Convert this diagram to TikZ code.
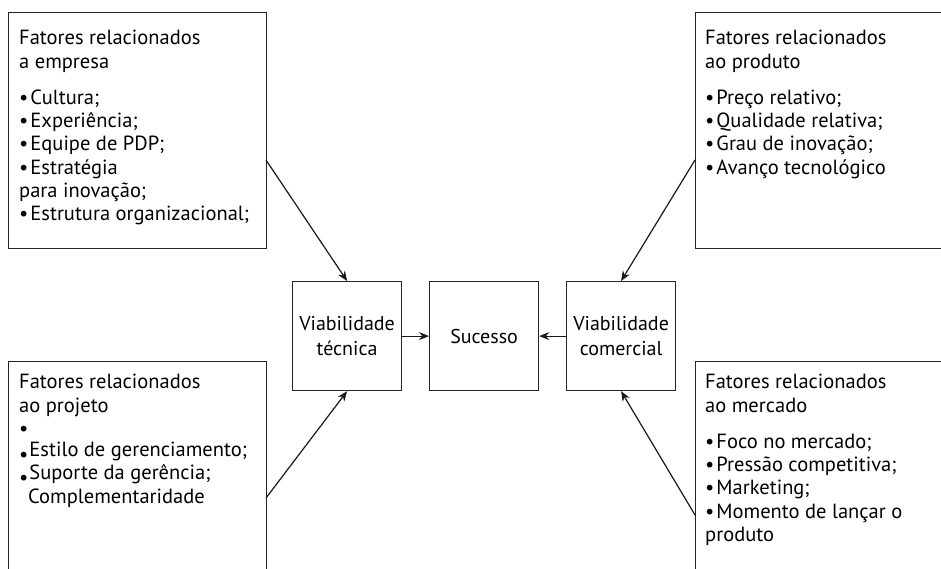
\documentclass[tikz,border=0pt]{standalone}
\usepackage{fontspec}
\setmainfont{PT Sans}
\usetikzlibrary{arrows.meta}
\newcommand{\bl}{\textbullet\hspace{2pt}}
\begin{document}
\begin{tikzpicture}[x=1pt,y=-1pt,
  frame/.style={draw=black!85, line width=1.2pt, rectangle, inner sep=0pt, anchor=north west},
  bigbox/.style={frame, minimum width=258pt, minimum height=236pt},
  midbox/.style={frame, minimum width=109pt, minimum height=109pt},
  txt/.style={anchor=north west, inner sep=0pt, align=left, font=\fontsize{20.5}{23.3}\selectfont},
  midtxt/.style={inner sep=0pt, align=center, font=\fontsize{20}{25}\selectfont},
  conn/.style={draw=black!90, line width=1.2pt, -{Stealth[length=10pt,width=8pt]}}]
\useasboundingbox (0,0) rectangle (941,568);
\clip (0,0) rectangle (941,568);
% big boxes
\node[bigbox] (tl) at (8,12) {};
\node[bigbox, minimum height=260pt] (bl) at (8,361) {};
\node[bigbox, minimum width=270pt] (tr) at (695,12) {};
\node[bigbox, minimum width=270pt, minimum height=260pt] (br) at (695,361) {};
% middle boxes
\node[midbox] (vt) at (292,281) {};
\node[midbox] (su) at (429,281) {};
\node[midbox] (vc) at (566,281) {};
\node[midtxt] (vtt) at (vt.center) {Viabilidade\\técnica};
\node[midtxt] (sut) at (su.center) {Sucesso};
\node[midtxt] (vct) at (vc.center) {Viabilidade\\comercial};
% texts
\node[txt] (tltext) at (19,30) {Fatores relacionados\\a empresa\\[13pt]
\bl Cultura;\\\bl Experiência;\\\bl Equipe de PDP;\\\bl Estratégia\\para inovação;\\\bl Estrutura organizacional;};
\node[txt] (trtext) at (705,30) {Fatores relacionados\\ao produto\\[13pt]
\bl Preço relativo;\\\bl Qualidade relativa;\\\bl Grau de inovação;\\\bl Avanço tecnológico};
\node[txt] (bltext) at (19,374) {Fatores relacionados\\ao projeto\\\textbullet\\[-2pt]
\raisebox{-5pt}{\textbullet}\hspace{1pt}Estilo de gerenciamento;\\\raisebox{-5pt}{\textbullet}\hspace{1pt}Suporte da gerência;\\\hspace{9pt}Complementaridade};
\node[txt] (brtext) at (705,374) {Fatores relacionados\\ao mercado\\[13pt]
\bl Foco no mercado;\\\bl Pressão competitiva;\\\bl Marketing;\\\bl Momento de lançar o\\produto};
% connectors
\coordinate (a1) at (266,160);
\coordinate (a2) at (266,498);
\coordinate (a3) at (695,160);
\coordinate (a4) at (695,515);
\draw[conn] (a1) -- (vt.north);
\draw[conn] (a2) -- (vt.south);
\draw[conn] (a3) -- (vc.north);
\draw[conn] (a4) -- (vc.south);
\draw[conn] (vt.east) -- (su.west);
\draw[conn] (vc.west) -- (su.east);
\end{tikzpicture}
\end{document}
